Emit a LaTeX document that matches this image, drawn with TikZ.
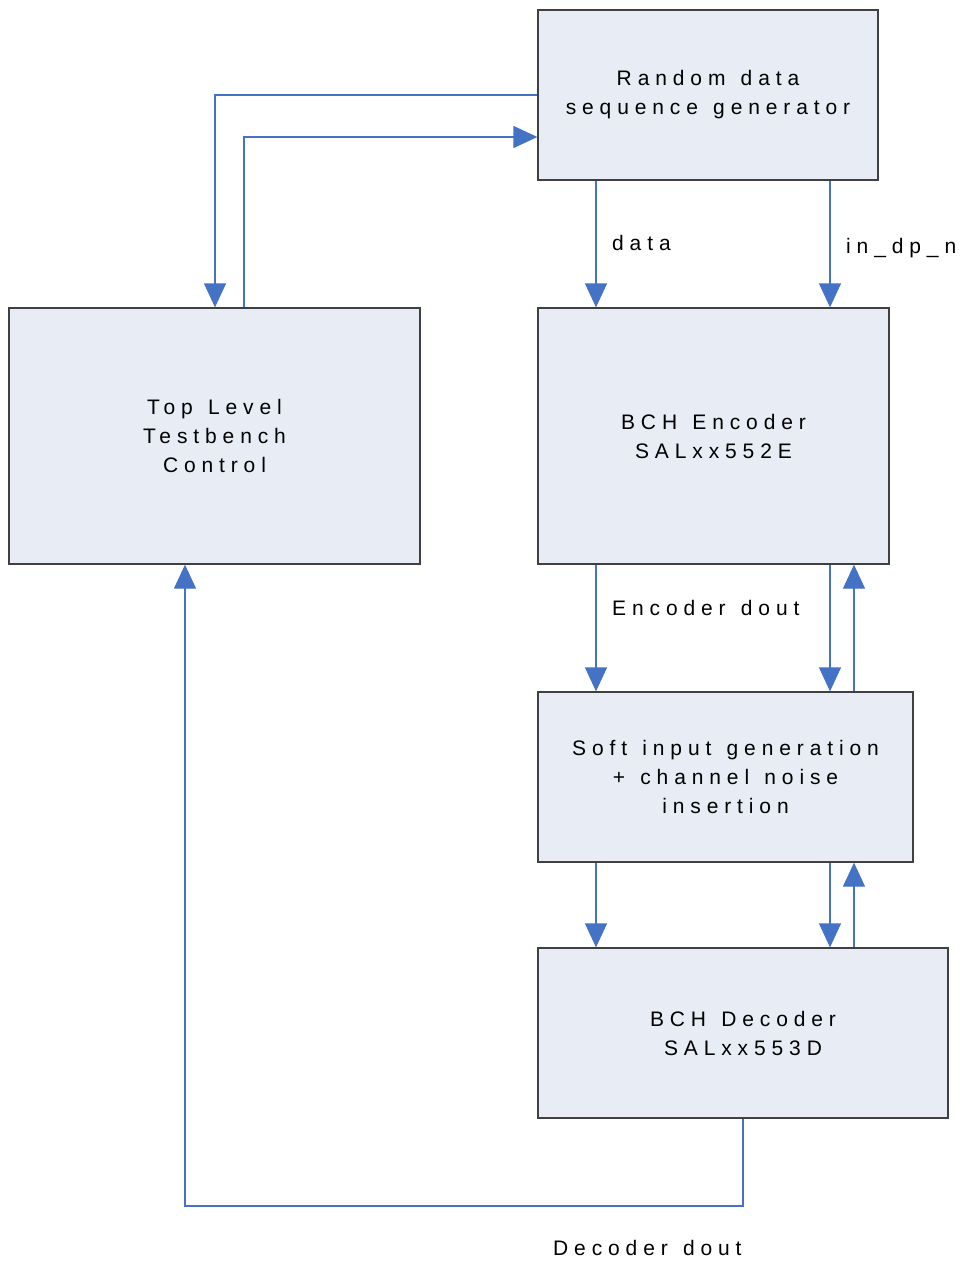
\documentclass[tikz,border=0pt]{standalone}
\usepackage{fontspec}
\setmainfont{Liberation Sans}[LetterSpace=28, WordSpace=1.3]
\usetikzlibrary{arrows.meta}
\definecolor{boxfill}{HTML}{E8ECF5}
\definecolor{boxline}{HTML}{404040}
\definecolor{arrblue}{HTML}{4472C4}
\tikzset{
  blk/.style={draw=boxline, fill=boxfill, line width=1.3pt, inner sep=0pt, align=center,
    font=\fontsize{21}{29}\selectfont},
  lbl/.style={anchor=west, inner sep=0pt, font=\fontsize{21}{29}\selectfont},
  conn/.style={draw=arrblue, line width=1.3pt},
  arr/.style={conn, -{Triangle[width=22pt,length=24pt]}}
}
\begin{document}
\begin{tikzpicture}[x=1pt,y=-1pt]
\useasboundingbox (0,0) rectangle (962,1262);
% boxes
\node[blk, minimum width=340pt, minimum height=170pt] (rand) at (708,95) {Random data\\sequence generator};
\node[blk, minimum width=411pt, minimum height=256pt] (top) at (214.5,436) {Top Level\\Testbench\\Control};
\node[blk, minimum width=351pt, minimum height=256pt] (enc) at (713.5,436) {BCH Encoder\\SALxx552E};
\node[blk, minimum width=375pt, minimum height=170pt] (soft) at (725.5,777) {Soft input generation\\+ channel noise\\insertion};
\node[blk, minimum width=410pt, minimum height=170pt] (dec) at (743,1033) {BCH Decoder\\SALxx553D};
% x positions
\coordinate (xa) at (596,0);
\coordinate (xb) at (830,0);
\coordinate (xc) at (854,0);
\coordinate (xd) at (215,0);
\coordinate (xe) at (244,0);
\coordinate (xf) at (185,0);
\coordinate (xg) at (743,0);
\coordinate (ya) at (0,95);
\coordinate (yb) at (0,137);
\coordinate (yc) at (0,1206);
% connectors
\draw[arr] (rand.west |- ya) -| (top.north -| xd);
\draw[arr] (top.north -| xe) |- (rand.west |- yb);
\draw[arr] (rand.south -| xa) -- (enc.north -| xa);
\draw[arr] (rand.south -| xb) -- (enc.north -| xb);
\draw[arr] (enc.south -| xa) -- (soft.north -| xa);
\draw[arr] (enc.south -| xb) -- (soft.north -| xb);
\draw[arr] (soft.north -| xc) -- (enc.south -| xc);
\draw[arr] (soft.south -| xa) -- (dec.north -| xa);
\draw[arr] (soft.south -| xb) -- (dec.north -| xb);
\draw[arr] (dec.north -| xc) -- (soft.south -| xc);
\draw[arr] (dec.south -| xg) -- (xg |- yc) -| (top.south -| xf);
% labels
\node[lbl] (ldata) at (612,243) {data};
\node[lbl] (lin) at (846,248) {in\_dp\_n};
\node[lbl] (lenc) at (612,608) {Encoder dout};
\node[lbl] (ldec) at (553,1248) {Decoder dout};
\end{tikzpicture}
\end{document}
